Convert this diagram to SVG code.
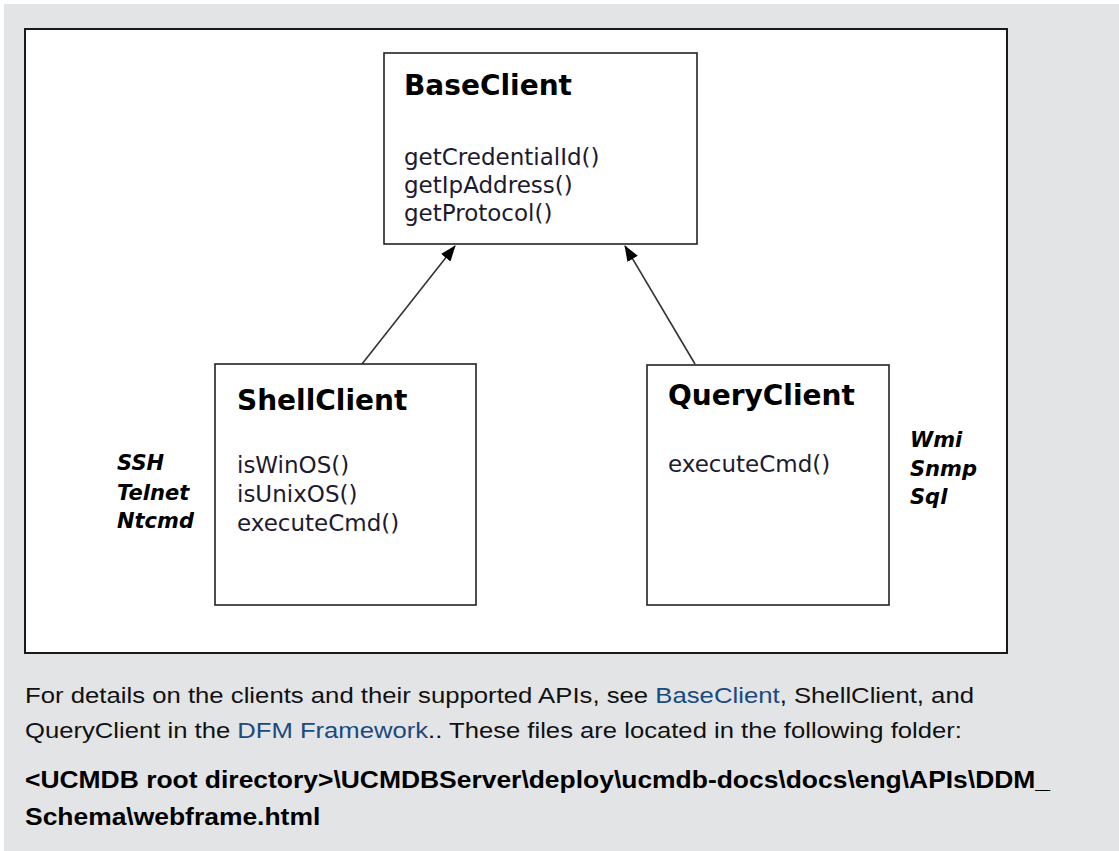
<svg xmlns="http://www.w3.org/2000/svg" width="1119" height="851" viewBox="0 0 1119 851">
  <defs>
    <style>
      .title { font-family: "DejaVu Sans", Verdana, sans-serif; font-weight: bold; font-size: 28px; fill: #000; }
      .method { font-family: "DejaVu Sans", Verdana, sans-serif; font-size: 23px; fill: #1e1a2e; }
      .proto { font-family: "DejaVu Sans", Verdana, sans-serif; font-weight: bold; font-style: italic; font-size: 21px; fill: #000; }
      .box { fill: #fff; stroke: #222; stroke-width: 1.6; }
      .conn { stroke: #333; stroke-width: 1.6; fill: none; }
      .note { font-family: "Liberation Sans", Arial, sans-serif; font-size: 22.5px; fill: #111; }
      .path { font-family: "Liberation Sans", Arial, sans-serif; font-size: 23px; font-weight: bold; fill: #000; }
      .link { fill: #1a4a7e; }
    </style>
    <marker id="arrow" markerWidth="16" markerHeight="12" refX="15" refY="6" orient="auto" markerUnits="userSpaceOnUse">
      <path d="M0,0 L16,6 L0,12 Z" fill="#000"/>
    </marker>
  </defs>
  <rect x="0" y="0" width="1119" height="851" fill="#fff"/>
  <rect x="4" y="4" width="1115" height="847" fill="#e3e4e6"/>
  <rect x="25" y="29" width="982" height="624" fill="#fff" stroke="#1a1a1a" stroke-width="2"/>

  <g id="connectors">
    <line class="conn" x1="362" y1="364" x2="455" y2="246" marker-end="url(#arrow)"/>
    <line class="conn" x1="695" y1="364" x2="625" y2="246" marker-end="url(#arrow)"/>
  </g>

  <g id="BaseClient">
    <rect class="box" x="384" y="53" width="313" height="191"/>
    <text class="title" x="404" y="95">BaseClient</text>
    <text class="method" x="404" y="165">getCredentialId()</text>
    <text class="method" x="404" y="193">getIpAddress()</text>
    <text class="method" x="404" y="221">getProtocol()</text>
  </g>

  <g id="ShellClient">
    <rect class="box" x="215" y="364" width="261" height="241"/>
    <text class="title" x="237" y="410">ShellClient</text>
    <text class="method" x="237" y="473">isWinOS()</text>
    <text class="method" x="237" y="502">isUnixOS()</text>
    <text class="method" x="237" y="531">executeCmd()</text>
  </g>

  <g id="ShellProtocols">
    <text class="proto" x="117" y="470">SSH</text>
    <text class="proto" x="117" y="500">Telnet</text>
    <text class="proto" x="117" y="528">Ntcmd</text>
  </g>

  <g id="QueryClient">
    <rect class="box" x="647" y="365" width="242" height="240"/>
    <text class="title" x="668" y="405">QueryClient</text>
    <text class="method" x="668" y="472">executeCmd()</text>
  </g>

  <g id="QueryProtocols">
    <text class="proto" x="910" y="447">Wmi</text>
    <text class="proto" x="910" y="476">Snmp</text>
    <text class="proto" x="910" y="504">Sql</text>
  </g>

  <g id="note">
    <text class="note" transform="translate(25,703) scale(1.143,1)">For details on the clients and their supported APIs, see <tspan class="link">BaseClient</tspan>, ShellClient, and</text>
    <text class="note" transform="translate(25,738) scale(1.14,1)">QueryClient in the <tspan class="link">DFM Framework</tspan>.. These files are located in the following folder:</text>
    <text class="path" transform="translate(25,788) scale(1.15,1)">&lt;UCMDB root directory&gt;\UCMDBServer\deploy\ucmdb-docs\docs\eng\APIs\DDM_</text>
    <text class="path" transform="translate(25,825) scale(1.15,1)">Schema\webframe.html</text>
  </g>
</svg>
